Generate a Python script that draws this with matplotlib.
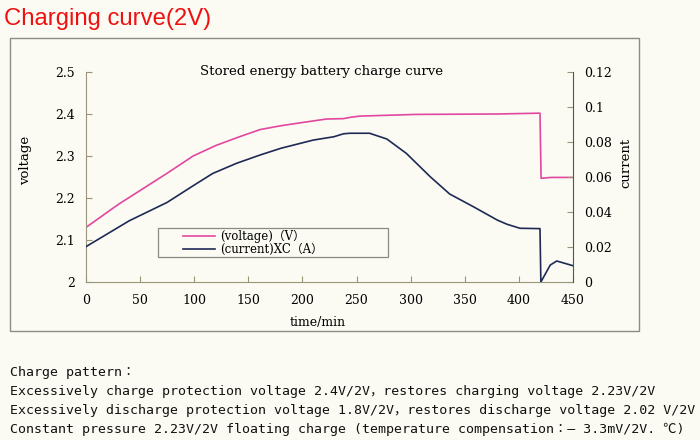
import matplotlib
matplotlib.use("Agg")
import matplotlib.pyplot as plt
from matplotlib.patches import Rectangle
from matplotlib.lines import Line2D

# ---- data ----
volt_t = [0, 30, 75, 99, 120, 142, 161, 180, 198, 222, 238, 244, 253, 305, 380, 419.5, 420.5, 430, 450]
volt_v = [2.130, 2.185, 2.259, 2.300, 2.325, 2.346, 2.363, 2.372, 2.379, 2.388, 2.389, 2.392, 2.395, 2.399, 2.400, 2.402, 2.247, 2.249, 2.249]

curr_t = [0, 40, 75, 99, 117, 139, 161, 180, 210, 229, 238, 244, 262, 278, 296, 318, 336, 358, 380, 389, 401, 419.5, 420.3, 429, 435, 450]
curr_a = [0.0202, 0.0350, 0.0455, 0.0550, 0.0620, 0.0678, 0.0726, 0.0764, 0.0811, 0.0830, 0.0847, 0.0850, 0.0850, 0.0817, 0.0735, 0.0602, 0.0503, 0.0430, 0.0354, 0.0330, 0.0307, 0.0305, 0.0, 0.0097, 0.0120, 0.0093]

x_ticks = [0, 50, 100, 150, 200, 250, 300, 350, 400, 450]
v_ticks = [2.0, 2.1, 2.2, 2.3, 2.4, 2.5]
v_labels = ["2", "2.1", "2.2", "2.3", "2.4", "2.5"]
c_ticks = [0, 0.02, 0.04, 0.06, 0.08, 0.10, 0.12]
c_labels = ["0", "0.02", "0.04", "0.06", "0.08", "0.1", "0.12"]

page_title = "Charging curve(2V)"
chart_title = "Stored energy battery charge curve"
legend_labels = ["(voltage)\uff08V\uff09", "(current)XC\uff08A\uff09"]
notes = [
    "Charge pattern\uff1a",
    "Excessively charge protection voltage 2.4V/2V\uff0crestores charging voltage 2.23V/2V",
    "Excessively discharge protection voltage 1.8V/2V\uff0crestores discharge voltage 2.02 V/2V",
    "Constant pressure 2.23V/2V floating charge (temperature compensation\uff1a\u2013 3.3mV/2V. \u2103)",
]

BG = "#fbfbf3"
PINK = "#e2479f"
NAVY = "#1e2a55"
AXC = "#9a9578"
serif = ["DejaVu Serif"]

fig = plt.figure(figsize=(7, 4.4), dpi=100, facecolor=BG)
W, H = 700, 440

def fx(px):
    return px / W

def fy(py):
    return 1 - py / H

# page title
fig.text(fx(4), fy(19), page_title, color="#ee1111", fontsize=17.2,
         family=["Liberation Sans"], va="center", ha="left")

# chart frame
fig.add_artist(Rectangle((fx(10), fy(331)), fx(639) - fx(10), fy(38) - fy(331),
                         transform=fig.transFigure, fill=False, edgecolor="#8c8c84", lw=1.0))

ax = fig.add_axes([fx(86), fy(282), fx(573) - fx(86), fy(72) - fy(282)])
ax.set_facecolor(BG)
ax.patch.set_alpha(0)
ax.plot(volt_t, volt_v, color=PINK, lw=1.2)
ax.set_xlim(0, 450)
ax.set_ylim(2.0, 2.5)
ax.set_xticks(x_ticks)
ax.set_xticklabels([str(t) for t in x_ticks], family=serif, fontsize=9)
ax.set_yticks(v_ticks)
ax.set_yticklabels(v_labels, family=serif, fontsize=9)
ax.tick_params(direction="in", length=4, color=AXC, pad=8)
ax.tick_params(axis="x", pad=9)
for s in ["top", "right"]:
    ax.spines[s].set_visible(False)
for s in ["left", "bottom"]:
    ax.spines[s].set_color(AXC)

ax2 = ax.twinx()
ax2.plot(curr_t, curr_a, color=NAVY, lw=1.2)
ax2.set_ylim(0, 0.12)
ax2.set_yticks(c_ticks)
ax2.set_yticklabels(c_labels, family=serif, fontsize=9)
ax2.tick_params(direction="in", length=4, color=AXC, pad=8)
for s in ["top", "left", "bottom"]:
    ax2.spines[s].set_visible(False)
ax2.spines["right"].set_color("#555555")

fig.text(fx(322), fy(71), chart_title, family=serif, fontsize=9.6,
         ha="center", va="center")
fig.text(fx(26), fy(160), "voltage", family=serif, fontsize=9.5,
         rotation=90, ha="center", va="center")
fig.text(fx(626), fy(163), "current", family=serif, fontsize=9.5,
         rotation=90, ha="center", va="center")
fig.text(fx(318), fy(322), "time/min", family=serif, fontsize=9,
         ha="center", va="center")

# legend
fig.add_artist(Rectangle((fx(158), fy(257)), fx(388) - fx(158), fy(228) - fy(257),
                         transform=fig.transFigure, fill=False, edgecolor="#8a8a80", lw=0.9))
for i, (lab, col) in enumerate(zip(legend_labels, [PINK, NAVY])):
    yy = 236 + i * 13.5
    fig.add_artist(Line2D([fx(183), fx(215)], [fy(yy), fy(yy)], color=col, lw=1.2,
                          transform=fig.transFigure))
    fig.text(fx(220), fy(yy), lab, family=["DejaVu Serif", "Noto Sans CJK JP"],
             fontsize=8.5, ha="left", va="center")

# notes
note_y = [372, 391, 410, 429]
for t, yy in zip(notes, note_y):
    fig.text(fx(10), fy(yy), t, family=["DejaVu Sans Mono", "Noto Sans CJK JP"],
             fontsize=9.5, ha="left", va="center", color="#111111")

fig.savefig("out.png", dpi=100, facecolor=BG)
